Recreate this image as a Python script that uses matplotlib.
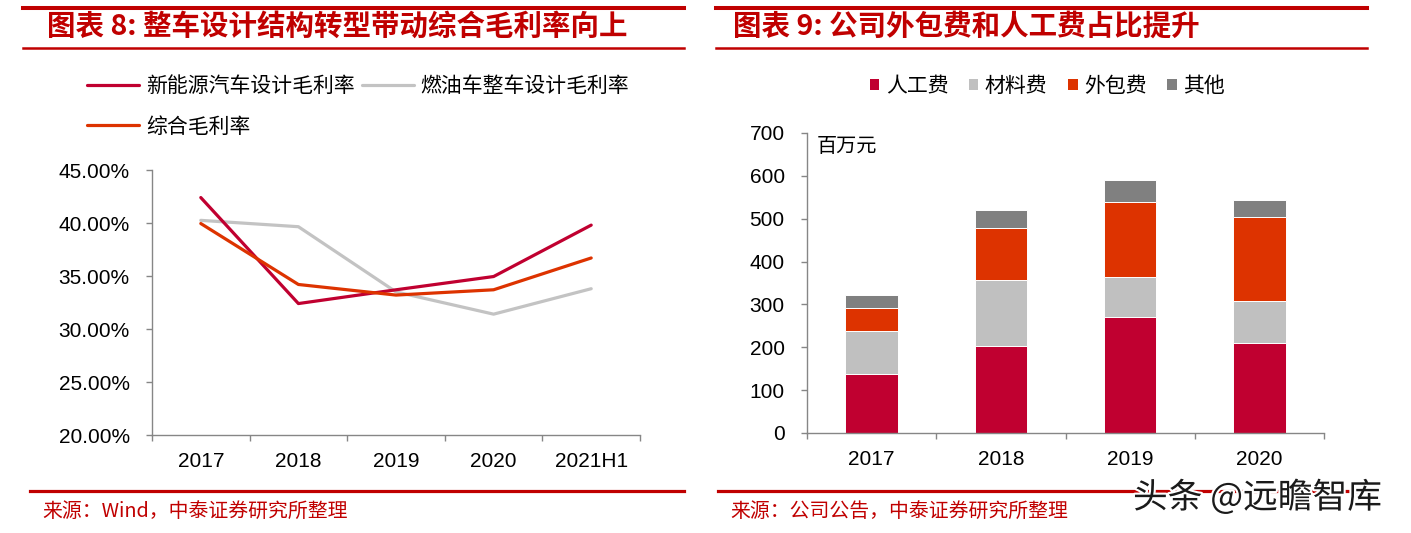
import matplotlib
matplotlib.use('Agg')
import matplotlib.pyplot as plt
import matplotlib.patheffects as pe
from matplotlib.lines import Line2D
from matplotlib.patches import Patch
import numpy as np

plt.rcParams['font.family'] = ['Noto Sans CJK SC', 'DejaVu Sans']
plt.rcParams['axes.unicode_minus'] = False

# ---- data ----
years_line = ['2017', '2018', '2019', '2020', '2021H1']
nev_margin = [42.4, 32.4, 33.7, 34.95, 39.8]      # 新能源汽车设计毛利率
fuel_margin = [40.25, 39.65, 33.5, 31.4, 33.8]    # 燃油车整车设计毛利率
total_margin = [39.95, 34.2, 33.2, 33.7, 36.7]    # 综合毛利率

years_bar = ['2017', '2018', '2019', '2020']
labor = [137, 204, 271, 209]        # 人工费
material = [102, 153, 94, 100]      # 材料费
outsource = [52, 121, 174, 196]     # 外包费
other = [32, 43, 52, 39]            # 其他

W, H = 1411, 533
RED = '#C00000'
C_NEV = '#C00030'
C_GRAY = '#C3C3C3'
C_ORANGE = '#DD3300'
C_DARK = '#808080'
AXIS = '#868686'
NUM_FONT = ['Liberation Sans', 'DejaVu Sans']


def fx(x):
    return x / W


def fy(y):
    return 1 - y / H


fig = plt.figure(figsize=(W / 100, H / 100), dpi=100)
fig.patch.set_facecolor('white')

# ---- header / footer rules ----
for x0, x1 in [(23, 684), (716, 1367)]:
    fig.add_artist(Line2D([fx(x0), fx(x1)], [fy(8), fy(8)], color=RED, lw=2.9))
    fig.add_artist(Line2D([fx(x0), fx(x1)], [fy(48), fy(48)], color=RED, lw=1.8))
for x0, x1 in [(30, 684), (718, 1367)]:
    fig.add_artist(Line2D([fx(x0), fx(x1)], [fy(491), fy(491)], color=RED, lw=2.3))

fig.text(fx(47), fy(27), '图表 8: 整车设计结构转型带动综合毛利率向上', color=RED,
         fontsize=20.5, fontweight='bold', va='center', ha='left')
fig.text(fx(733), fy(27), '图表 9: 公司外包费和人工费占比提升', color=RED,
         fontsize=20.5, fontweight='bold', va='center', ha='left')
fig.text(fx(42), fy(511), '来源：Wind，中泰证券研究所整理', color=RED,
         fontsize=14.3, va='center', ha='left')
fig.text(fx(730), fy(511), '来源：公司公告，中泰证券研究所整理', color=RED,
         fontsize=14.3, va='center', ha='left')


def style_axes(ax, n):
    for s in ['top', 'right']:
        ax.spines[s].set_visible(False)
    for s in ['left', 'bottom']:
        ax.spines[s].set_color(AXIS)
        ax.spines[s].set_linewidth(1.0)
    ax.set_xlim(-0.5, n - 0.5)
    ax.set_xticks(np.arange(n))
    ax.set_xticks(np.arange(n + 1) - 0.5, minor=True)
    ax.tick_params(axis='x', which='major', length=0, pad=12, labelsize=15)
    ax.tick_params(axis='x', which='minor', length=4, color=AXIS, width=1.0)
    ax.tick_params(axis='y', length=4, color=AXIS, width=1.0, labelsize=15)
    for lab in ax.get_xticklabels() + ax.get_yticklabels():
        lab.set_fontfamily(NUM_FONT)


# ---- left: line chart ----
ax1 = fig.add_axes([fx(152), fy(435), fx(640) - fx(152), (435 - 170) / H])
xi = np.arange(len(years_line))
l1, = ax1.plot(xi, nev_margin, color=C_NEV, lw=2.3, solid_capstyle='round', zorder=3)
l2, = ax1.plot(xi, fuel_margin, color=C_GRAY, lw=2.3, solid_capstyle='round', zorder=2)
l3, = ax1.plot(xi, total_margin, color=C_ORANGE, lw=2.3, solid_capstyle='round', zorder=3)
ax1.set_ylim(20, 45)
yt = np.arange(20, 46, 5)
ax1.set_yticks(yt)
ax1.set_yticklabels([f'{v:.2f}%' for v in yt])
ax1.set_xticklabels(years_line)
ax1.tick_params(axis='y', pad=12)
style_axes(ax1, len(years_line))

fig.legend([l1, l3, l2], ['新能源汽车设计毛利率', '综合毛利率', '燃油车整车设计毛利率'],
           ncol=2, loc='upper left', bbox_to_anchor=(fx(87), fy(75)),
           frameon=False, fontsize=15, handlelength=2.5, handletextpad=0.33,
           columnspacing=0.33, labelspacing=0.9, borderpad=0, borderaxespad=0)

# ---- right: stacked bars ----
ax2 = fig.add_axes([fx(807), fy(433), fx(1324) - fx(807), (433 - 133) / H])
xb = np.arange(len(years_bar))
series = [('人工费', labor, C_NEV), ('材料费', material, '#C0C0C0'),
          ('外包费', outsource, C_ORANGE), ('其他', other, C_DARK)]
bottom = np.zeros(len(years_bar))
handles = []
for name, vals, col in series:
    ax2.bar(xb, vals, width=0.405, bottom=bottom, color=col,
            edgecolor='white', linewidth=0.7, zorder=2)
    bottom += np.array(vals)
    handles.append(Patch(facecolor=col, edgecolor='none'))
ax2.set_ylim(0, 700)
ax2.set_yticks(np.arange(0, 701, 100))
ax2.set_xticklabels(years_bar)
ax2.tick_params(axis='y', pad=12)
style_axes(ax2, len(years_bar))

fig.legend(handles, [s[0] for s in series], ncol=4, loc='upper left',
           bbox_to_anchor=(fx(870), fy(75)), frameon=False, fontsize=15,
           handlelength=0.45, handleheight=0.45, handletextpad=0.3,
           columnspacing=1.0, borderpad=0, borderaxespad=0)

fig.text(fx(817), fy(146), '百万元', fontsize=14.5, va='center', ha='left')

# watermark
fig.text(fx(1133), fy(498), '头条 @远瞻智库', fontsize=25, color='#1a1a1a',
         va='center', ha='left',
         path_effects=[pe.withStroke(linewidth=3, foreground='white')])

fig.savefig('out.png', dpi=100, facecolor='white')
